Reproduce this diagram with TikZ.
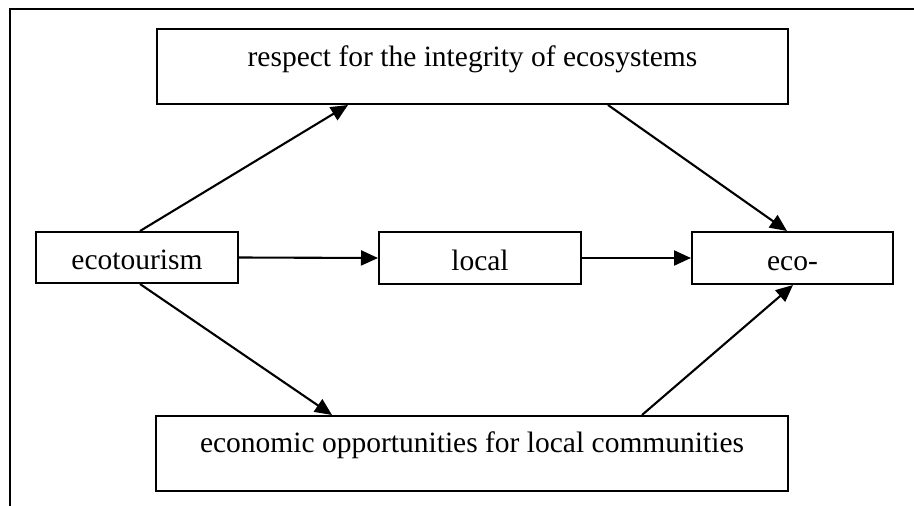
\documentclass[tikz,border=0pt]{standalone}
\usepackage{fontspec}
\setmainfont{Liberation Serif}
\usetikzlibrary{arrows.meta}
\begin{document}
\begin{tikzpicture}[x=1pt,y=-1pt,
  box/.style={draw, line width=2pt, inner sep=0pt, font=\fontsize{29.5}{34}\selectfont},
  midbox/.style={box, minimum width=202pt, minimum height=52pt, text height=24pt, text depth=0pt},
  link/.style={line width=2.1pt, -{Triangle[length=17pt,width=15pt]}}]
\useasboundingbox (0,0) rectangle (914,506);
% open frame: top and left edges only
\draw[line width=2pt] (10,506) -- (10,9) -- (914,9);
% boxes
\node[box, minimum width=631pt, minimum height=75pt, text height=10pt, text depth=10pt] (integrity) at (472.5,66.5) {respect for the integrity of ecosystems};
\node[midbox, minimum height=51pt] (ecot) at (137,257.5) {ecotourism};
\node[midbox] (local) at (480,258) {local};
\node[midbox, minimum width=201pt] (eco) at (792.5,258) {eco-};
\node[box, minimum width=632pt, minimum height=75pt, text height=9pt, text depth=11pt] (econ) at (472,453.5) {economic opportunities for local communities};
% connectors
\draw[link] ([xshift=3pt]ecot.north) -- ([xshift=-124.5pt]integrity.south);
\draw[link] ([xshift=135.5pt]integrity.south) -- ([xshift=-5.5pt]eco.north);
\draw[link] (ecot.east) -- (local.west);
\draw[link] (local.east) -- (eco.west);
\draw[link] ([xshift=3pt]ecot.south) -- ([xshift=-140pt]econ.north);
\draw[link] ([xshift=170pt]econ.north) -- ([xshift=0.5pt]eco.south);
\end{tikzpicture}
\end{document}
